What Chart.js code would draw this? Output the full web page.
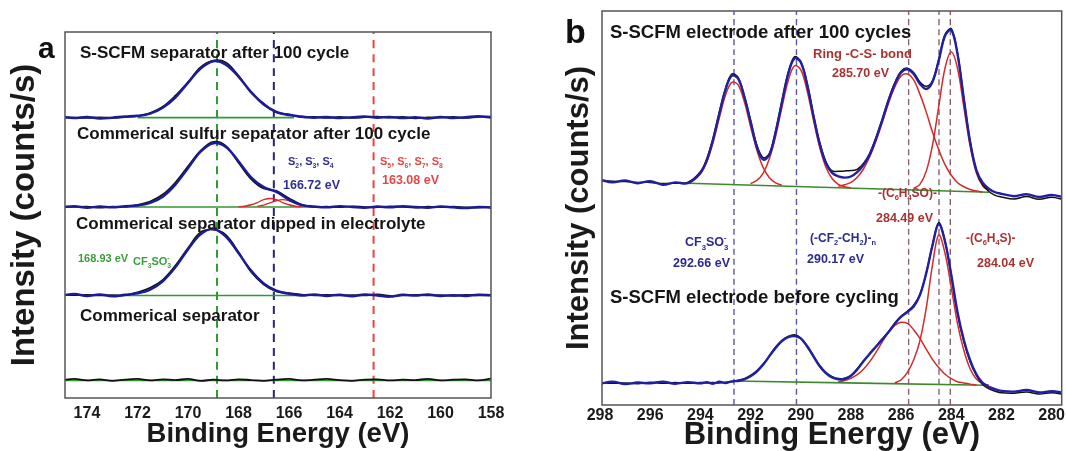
<!DOCTYPE html>
<html>
<head>
<meta charset="utf-8">
<script src="https://cdn.jsdelivr.net/npm/chart.js@4.4.0/dist/chart.umd.min.js"></script>
<style>
html, body { margin: 0; padding: 0; background: #fff; }
#boxA { position: absolute; left: 0; top: 0; }
#boxB { position: absolute; left: 540px; top: 0; }
</style>
</head>
<body>
<canvas id="boxA" width="540" height="451"></canvas>
<canvas id="boxB" width="526" height="451"></canvas>
<script>
// ---- panel a : S 2p, binding energy grid (eV) ----
const xA = [175,174.5,174,173.5,173,172.5,172,171.5,171,170.5,170,169.5,169,168.5,168,167.5,167,166.5,166,165.5,165,164.5,164,163.5,163,162.5,162,161.5,161,160.5,160,159.5,159,158.5,158];

const sepCycledFit = [76.7,76.5,76.8,76.4,76.6,76.9,77.1,77.7,79.3,82.1,86.1,90.0,92.0,91.1,87.8,83.6,80.2,78.2,77.3,76.9,76.6,76.8,76.5,76.7,76.9,76.6,76.8,76.5,76.7,76.4,76.8,76.5,76.7,77.0,76.6];
const sepCycledRaw = [76.9,76.6,76.5,76.7,76.5,76.7,77.0,77.9,79.6,82.6,86.3,90.4,92.2,91.7,88.1,83.4,80.5,78.0,77.5,76.7,76.8,76.5,76.8,76.5,76.7,76.9,76.6,76.8,76.4,76.7,76.6,76.8,76.5,76.8,76.9];

const sulfurFit = [52.1,52.4,52.0,52.3,52.1,52.4,52.6,53.3,55.0,58.3,62.8,67.3,69.6,68.6,64.7,60.3,57.6,56.3,54.2,52.7,52.3,52.1,52.4,52.2,52.0,52.3,52.1,52.4,52.2,52.0,52.3,52.1,51.9,52.2,52.0];
const sulfurRaw = [52.3,52.2,52.3,52.0,52.3,52.2,52.8,53.7,55.6,58.9,63.3,67.6,70.0,68.9,64.3,59.8,57.2,56.6,54.6,52.9,52.2,52.3,52.1,52.4,52.2,52.1,52.4,52.2,52.0,52.3,52.1,52.3,52.1,52.0,52.2];

const dippedFit = [28.0,28.4,27.9,28.3,27.8,28.2,28.6,29.6,31.9,35.7,40.6,44.7,46.2,44.1,39.6,34.8,31.3,29.3,28.5,28.0,28.3,27.9,28.2,27.8,28.3,28.0,27.7,28.2,28.0,28.3,27.9,28.1,27.9,28.2,28.1];
const dippedRaw = [28.2,28.1,28.2,28.0,28.1,28.0,28.9,30.1,32.3,36.2,41.0,45.3,46.0,44.6,39.9,34.4,31.0,29.1,28.7,28.3,28.0,28.2,28.0,28.1,28.0,28.3,27.9,28.0,28.2,28.0,28.1,27.9,28.2,28.0,28.0];

const bareRaw = [4.9,5.2,4.8,5.1,4.7,5.0,5.2,4.8,5.1,4.9,5.2,4.7,5.0,4.8,5.1,4.9,4.7,5.0,5.2,4.8,5.0,5.2,4.9,4.7,5.0,5.1,4.8,5.0,4.9,5.2,4.8,5.0,5.1,4.8,5.3];

// polysulfide components under the sulfur-separator spectrum
const polyS2X = [168,167.75,167.5,167.25,167,166.75,166.5,166.25,166,165.75,165.5];
const polyS2Y = [52.25,52.4,52.8,53.4,54.2,54.5,54.2,53.4,52.8,52.4,52.25];
const polyS4X = [167.25,167,166.75,166.5,166.25,166,165.75,165.5,165.25,165];
const polyS4Y = [52.4,52.7,53.3,53.9,54.2,53.9,53.3,52.7,52.4,52.2];

// backgrounds [start, end] and levels
const bgAX = [[172,165.8],[172.5,164],[172.5,165.5],[175,158]];
const bgAY = [[76.6,76.6],[52.2,52.2],[28.0,28.0],[4.8,4.8]];

const refLinesA = [168.85, 166.6, 162.65];
const ticksA = [174,172,170,168,166,164,162,160,158];

// ---- panel b : C 1s ----
const xB = [298,297.5,297,296.5,296,295.5,295,294.5,294,293.75,293.5,293.25,293,292.75,292.5,292.25,292,291.75,291.5,291.25,291,290.75,290.5,290.25,290,289.75,289.5,289.25,289,288.75,288.5,288.25,288,287.75,287.5,287.25,287,286.75,286.5,286.25,286,285.75,285.5,285.25,285,284.75,284.5,284.25,284,283.75,283.5,283.25,283,282.75,282.5,282.25,282,281.5,281,280.5,280,279.5];

const afterFit = [57.2,56.5,57.0,56.3,56.8,55.9,56.5,56.3,58.9,62.0,67.2,73.8,80.0,83.6,82.9,78.3,72.0,65.5,62.3,63.5,69.3,76.8,84.0,88.0,87.0,81.5,73.6,66.4,61.4,58.9,58.0,57.7,58.0,59.1,60.9,63.6,67.6,72.3,77.3,81.5,84.4,85.2,84.0,81.5,80.2,82.0,87.4,93.7,95.2,89.0,77.7,66.8,59.6,56.4,54.9,54.0,53.6,53.0,53.5,52.8,53.3,52.7];
const afterRaw = [57.0,56.8,56.7,56.5,56.5,56.2,56.3,56.5,59.2,62.4,67.6,74.2,80.3,84.0,83.2,78.5,72.2,66.0,62.8,63.8,69.5,77.2,84.4,88.4,87.2,81.8,73.9,66.8,61.8,59.4,59.3,59.4,59.5,59.8,61.3,63.9,67.9,72.6,77.6,81.8,84.7,85.5,84.4,82.0,80.9,82.3,87.7,94.0,95.5,89.3,77.9,66.9,59.4,55.9,54.2,53.2,52.8,52.3,52.9,52.2,52.7,52.1];

const beforeFit = [5.4,5.9,5.3,5.7,5.5,5.9,5.4,5.8,5.5,5.8,5.4,5.9,5.6,6.0,6.1,6.5,7.3,8.5,10.2,12.4,14.5,16.2,17.2,17.5,16.9,14.9,12.4,9.9,8.1,7.0,6.5,6.6,7.4,9.0,11.1,13.0,14.8,16.6,18.5,20.6,22.4,23.6,25.0,27.9,33.4,40.5,46.0,41.5,33.0,23.5,16.5,11.4,7.8,5.6,4.6,4.0,3.6,3.4,3.8,3.2,3.5,3.1];
const beforeRaw = [5.6,5.5,5.6,5.4,5.8,5.5,5.7,5.5,5.7,5.6,5.7,5.6,5.8,5.9,6.3,6.7,7.5,8.7,10.4,12.5,14.7,16.4,17.4,17.8,17.0,15.1,12.6,10.1,8.3,7.2,6.7,6.8,7.5,9.2,11.2,13.1,14.9,16.8,18.6,20.8,22.5,23.8,25.3,28.1,33.5,40.6,46.3,41.6,32.8,23.2,16.1,11.0,7.5,5.2,4.1,3.5,3.1,3.0,3.3,2.8,3.1,2.7];

// fitted components
const cfsoX = [294.5,294.25,294,293.75,293.5,293.25,293,292.75,292.5,292.25,292,291.75,291.5,291.25,291,290.75];
const cfsoY = [56.6,57.2,58.7,61.6,66.5,72.7,78.6,81.9,81.3,77.0,70.7,64.7,60.3,57.7,56.4,55.8];
const pvdfX = [292,291.75,291.5,291.25,291,290.75,290.5,290.25,290,289.75,289.5,289.25,289,288.75,288.5,288.25,288];
const pvdfY = [56.2,57.0,58.8,62.5,68.2,75.5,82.3,86.1,85.1,79.9,72.5,65.5,60.4,57.5,56.0,55.4,55.1];
const ringX = [288.5,288.25,288,287.75,287.5,287.25,287,286.75,286.5,286.25,286,285.75,285.5,285.25,285,284.75,284.5,284.25,284,283.75,283.5,283.25,283,282.75];
const ringY = [55.5,55.9,56.5,57.8,59.9,63.0,67.0,71.7,76.6,80.7,83.5,84.0,82.5,78.9,74.4,69.3,64.8,61.0,58.3,56.4,55.4,54.7,54.3,54.05];
const phsX = [285.5,285.25,285,284.75,284.5,284.25,284,283.75,283.5,283.25,283,282.75,282.5];
const phsY = [55.0,56.0,59.3,65.9,75.8,85.5,89.6,85.4,75.6,65.7,58.9,55.6,54.4];
const soX = [288.5,288.25,288,287.75,287.5,287.25,287,286.75,286.5,286.25,286,285.75,285.5,285.25,285,284.75,284.5,284.25,284,283.75,283.5,283.25,283];
const soY = [5.9,6.2,6.8,7.7,9.1,11.0,13.4,16.0,18.5,20.2,21.0,20.7,19.1,16.9,14.2,11.6,9.5,7.8,6.7,5.9,5.6,5.3,5.1];
const sX = [286.25,286,285.75,285.5,285.25,285,284.75,284.5,284.25,284,283.75,283.5,283.25,283,282.75,282.5];
const sY = [5.6,6.4,8.3,11.4,16.3,24.5,35.5,43.2,38.5,29.8,20.6,13.9,9.2,6.6,5.4,5.0];

const bgBX = [[294.5,282.5],[292.66,282.6]];
const bgBY = [[56.3,54.0],[6.1,5.0]];

const refLinesB = [292.66, 290.17, 285.70, 284.49, 284.04];
const ticksB = [298,296,294,292,290,288,286,284,282,280];

const FONT = '"Liberation Sans", Arial, sans-serif';
Chart.defaults.font.family = FONT;

function line(xs, ys, color, width, order, dash) {
    return {
        data: xs.map((x, i) => ({x: x, y: ys[i]})),
        borderColor: color,
        borderWidth: width,
        borderDash: dash || [],
        pointRadius: 0,
        tension: 0.35,
        fill: false,
        order: order
    };
}

function drawRich(ctx, str, x, y, size, color) {
    ctx.fillStyle = color;
    ctx.textBaseline = 'alphabetic';
    ctx.textAlign = 'left';
    let cx = x, start = x, end = x, prevScript = false;
    for (let i = 0; i < str.length; i++) {
        const ch = str[i];
        if ((ch === '_' || ch === '^') && i + 1 < str.length) {
            const c = str[++i];
            const s = size * 0.62;
            ctx.font = 'bold ' + s + 'px ' + FONT;
            const w = ctx.measureText(c).width;
            if (!prevScript) start = cx;
            ctx.fillText(c, start, y + (ch === '_' ? size * 0.28 : -size * 0.45));
            end = prevScript ? Math.max(end, start + w) : start + w;
            cx = end;
            prevScript = true;
            continue;
        }
        prevScript = false;
        ctx.font = 'bold ' + size + 'px ' + FONT;
        ctx.fillText(ch, cx, y);
        cx += ctx.measureText(ch).width;
    }
}

const frame = {
    id: 'frame',
    afterDraw(chart, args, opts) {
        const ctx = chart.ctx;
        const a = chart.chartArea;
        ctx.save();
        ctx.strokeStyle = '#555';
        ctx.lineWidth = 1.5;
        ctx.strokeRect(a.left, a.top, a.right - a.left, a.bottom - a.top);
        (opts.notes || []).forEach(n => drawRich(ctx, n.t, n.x, n.y, n.s, n.c));
        ctx.restore();
    }
};

function makeOptions(cfg) {
    return {
        responsive: false,
        animation: false,
        events: [],
        layout: { padding: cfg.padding },
        plugins: {
            legend: { display: false },
            tooltip: { enabled: false },
            frame: { notes: cfg.notes }
        },
        scales: {
            x: {
                type: 'linear',
                reverse: true,
                min: cfg.xmin,
                max: cfg.xmax,
                afterBuildTicks: s => { s.ticks = cfg.ticks.map(v => ({value: v})); },
                afterFit: s => { s.height = cfg.xh; },
                grid: { display: false, drawTicks: false },
                border: { display: false },
                ticks: {
                    color: '#1a1a1a',
                    font: { size: 16, weight: 'bold' },
                    padding: cfg.tickPad,
                    maxRotation: 0,
                    autoSkip: false,
                    callback: v => v
                },
                title: {
                    display: true,
                    text: 'Binding Energy (eV)',
                    color: '#1a1a1a',
                    font: { size: cfg.xtSize, weight: 'bold', lineHeight: 1 },
                    padding: { top: 0, bottom: cfg.xtPad }
                }
            },
            y: {
                min: 0,
                max: 100,
                afterFit: s => { s.width = cfg.yw; },
                grid: { display: false, drawTicks: false },
                border: { display: false },
                ticks: { display: false },
                title: {
                    display: true,
                    text: 'Intensity (counts/s)',
                    color: '#1a1a1a',
                    font: { size: cfg.ytSize, weight: 'bold', lineHeight: 1 },
                    padding: { top: cfg.ytPad, bottom: 0 }
                }
            }
        }
    };
}

// ---- chart a ----
const blueA = '#1c1c96';
const dsA = [
    line(xA, sepCycledFit, blueA, 2.5, 1),
    line(xA, sulfurFit, blueA, 2.5, 1),
    line(xA, dippedFit, blueA, 2.5, 1),
    line(xA, sepCycledRaw, '#111', 1.6, 2),
    line(xA, sulfurRaw, '#111', 1.6, 2),
    line(xA, dippedRaw, '#111', 1.6, 2),
    line(xA, bareRaw, '#111', 1.8, 2),
    line(polyS2X, polyS2Y, '#d82828', 1.4, 3),
    line(polyS4X, polyS4Y, '#d82828', 1.4, 3)
];
bgAX.forEach((xs, i) => dsA.push(line(xs, bgAY[i], '#2f9a2f', 1.6, 4)));
const dashColA = ['#2f9a2f', '#25257e', '#e84444'];
refLinesA.forEach((p, i) => dsA.push(line([p, p], [0, 100], dashColA[i], 2, 5, [8, 6])));

new Chart(document.getElementById('boxA'), {
    type: 'line',
    data: { datasets: dsA },
    options: makeOptions({
        padding: { left: 0, right: 49, top: 32, bottom: 0 },
        xmin: 158, xmax: 174.87, ticks: ticksA, xh: 53, yw: 65,
        tickPad: 6, xtSize: 27.5, xtPad: 3, ytSize: 33, ytPad: 8,
        notes: [
            { t: 'a', x: 38, y: 58, s: 30, c: '#111' },
            { t: 'S-SCFM separator after 100 cycle', x: 80, y: 57.5, s: 17, c: '#151515' },
            { t: 'Commerical sulfur separator after 100 cycle', x: 77, y: 139, s: 17, c: '#151515' },
            { t: 'Commerical separator dipped in electrolyte', x: 76, y: 229, s: 17, c: '#151515' },
            { t: 'Commerical separator', x: 80, y: 320.5, s: 17, c: '#151515' },
            { t: 'S_2^-, S_3^-, S_4^-', x: 288, y: 165, s: 11, c: '#303090' },
            { t: '166.72 eV', x: 283, y: 189, s: 12.5, c: '#303090' },
            { t: 'S_5^-, S_6^-, S_7^-, S_8^-', x: 380, y: 165, s: 11, c: '#e04848' },
            { t: '163.08 eV', x: 382, y: 184, s: 12.5, c: '#e04848' },
            { t: '168.93 eV', x: 78, y: 262, s: 11, c: '#3c9c3c' },
            { t: 'CF_3SO_3^-', x: 133, y: 265, s: 11, c: '#3c9c3c' }
        ]
    }),
    plugins: [frame]
});

// ---- chart b ----
const blueB = '#2020a0';
const redB = '#d42a2a';
const dsB = [
    line(xB, afterFit, blueB, 2.4, 1),
    line(xB, beforeFit, blueB, 2.4, 1),
    line(xB, afterRaw, '#111', 1.5, 2),
    line(xB, beforeRaw, '#111', 1.5, 2),
    line(cfsoX, cfsoY, redB, 1.5, 3),
    line(pvdfX, pvdfY, redB, 1.5, 3),
    line(ringX, ringY, redB, 1.5, 3),
    line(phsX, phsY, redB, 1.5, 3),
    line(soX, soY, redB, 1.5, 3),
    line(sX, sY, redB, 1.5, 3)
];
bgBX.forEach((xs, i) => dsB.push(line(xs, bgBY[i], '#3c8a2a', 1.6, 4)));
const dashColB = ['#5858a4', '#5858a4', '#8a6272', '#8a6272', '#8a6272'];
refLinesB.forEach((p, i) => dsB.push(line([p, p], [0, 100], dashColB[i], 1.4, 5, [6, 4])));

new Chart(document.getElementById('boxB'), {
    type: 'line',
    data: { datasets: dsB },
    options: makeOptions({
        padding: { left: 0, right: 0, top: 11, bottom: 0 },
        xmin: 279.6, xmax: 297.92, ticks: ticksB, xh: 46, yw: 62,
        tickPad: 1, xtSize: 31, xtPad: 0, ytSize: 31, ytPad: 23.5,
        notes: [
            { t: 'b', x: 25, y: 43, s: 34, c: '#111' },
            { t: 'S-SCFM electrode after 100 cycles', x: 70, y: 38, s: 18.5, c: '#151515' },
            { t: 'Ring -C-S- bond', x: 273, y: 58, s: 13, c: '#a83232' },
            { t: '285.70 eV', x: 292, y: 77, s: 12.5, c: '#a83232' },
            { t: '-(C_6H_4SO)-', x: 338, y: 197, s: 12, c: '#a83232' },
            { t: '284.49 eV', x: 336, y: 222, s: 12.5, c: '#a83232' },
            { t: 'CF_3SO_3^-', x: 145, y: 246, s: 12.5, c: '#2b2b8c' },
            { t: '292.66 eV', x: 133, y: 267, s: 12.5, c: '#2b2b8c' },
            { t: '(-CF_2-CH_2)-_n', x: 270, y: 242, s: 12, c: '#2b2b8c' },
            { t: '290.17 eV', x: 267, y: 263, s: 12.5, c: '#2b2b8c' },
            { t: '-(C_6H_4S)-', x: 426, y: 242, s: 12, c: '#a83232' },
            { t: '284.04 eV', x: 437, y: 267, s: 12.5, c: '#a83232' },
            { t: 'S-SCFM electrode before cycling', x: 70, y: 303, s: 18.5, c: '#151515' }
        ]
    }),
    plugins: [frame]
});
</script>
</body>
</html>
